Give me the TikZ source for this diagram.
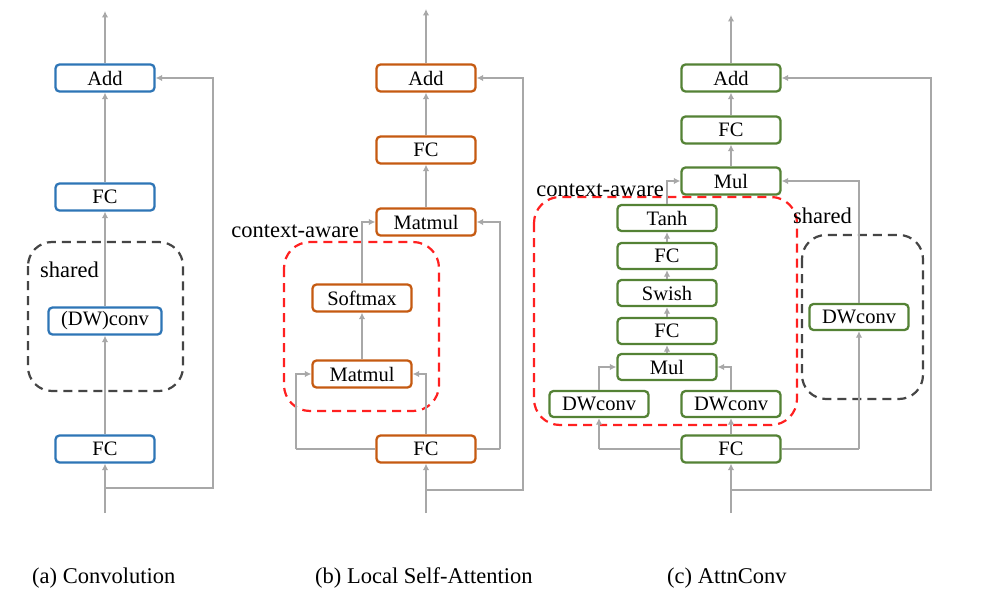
\documentclass[tikz,border=0pt]{standalone}
\usepackage{fontspec}
\setmainfont{Liberation Serif}
\usetikzlibrary{arrows.meta}
\definecolor{lgray}{HTML}{A8A8A8}
\definecolor{bblue}{HTML}{2E75B6}
\definecolor{borange}{HTML}{C55A11}
\definecolor{bgreen}{HTML}{548235}
\definecolor{dred}{HTML}{FF2020}
\definecolor{dgray}{HTML}{454545}
\tikzset{
  blk/.style={draw, rounded corners=4pt, line width=2.3pt, minimum height=27pt,
    minimum width=99pt, inner sep=0pt, fill=white, font=\fontsize{20.5}{21}\selectfont},
  bbox/.style={blk, draw=bblue},
  obox/.style={blk, draw=borange},
  gbox/.style={blk, draw=bgreen},
  conn/.style={draw=lgray, line width=1.9pt, -{Latex[length=6.5pt,width=6.5pt]}},
  plain/.style={draw=lgray, line width=1.9pt},
  reddash/.style={draw=dred, line width=2.2pt, dash pattern=on 9pt off 6pt, rounded corners=26pt},
  graydash/.style={draw=dgray, line width=2.2pt, dash pattern=on 9pt off 6pt, rounded corners=24pt},
  lbl/.style={inner sep=0pt, font=\fontsize{22.5}{24}\selectfont},
  captxt/.style={inner sep=0pt, font=\fontsize{22.5}{24}\selectfont},
}
\begin{document}
\begin{tikzpicture}[x=1pt,y=-1pt]
\useasboundingbox (0,0) rectangle (986,602);
\fill[white] (0,0) rectangle (986,602);

% ---------------- (a) ----------------
\draw[graydash] (28,242) rectangle (183,391);
\node[lbl, anchor=base west] (ashared) at (40,277) {shared};
\coordinate (ain) at (105,513);
\coordinate (abr) at (105,488);
\coordinate (abrr) at (213,488);
\coordinate (atop) at (105,11);
\node[bbox] (aadd) at (105,78) {Add};
\node[bbox] (afc1) at (105,197) {FC};
\node[bbox, minimum width=113pt] (aconv) at (105,321) {(DW)conv};
\node[bbox] (afc0) at (105,449) {FC};
\draw[conn] (ain) -- (afc0);
\draw[conn] (afc0) -- (aconv);
\draw[conn] (aconv) -- (afc1);
\draw[conn] (afc1) -- (aadd);
\draw[conn] (aadd) -- (atop);
\draw[conn] (abr) -- (abrr) |- (aadd.east);

% ---------------- (b) ----------------
\draw[reddash] (284,242) rectangle (439,411);
\node[lbl, anchor=base east] (bctx) at (359,237) {context-aware};
\coordinate (bin) at (426,513);
\coordinate (bbr) at (426,490);
\coordinate (bbrr) at (523,490);
\coordinate (btop) at (426,9);
\coordinate (bl) at (296,449);
\coordinate (br) at (500,449);
\node[obox] (badd) at (426,78) {Add};
\node[obox] (bfc1) at (426,150) {FC};
\node[obox] (bmm2) at (426,222) {Matmul};
\node[obox] (bsm) at (362,298) {Softmax};
\node[obox] (bmm1) at (362,374) {Matmul};
\node[obox] (bfc0) at (426,449) {FC};
\draw[conn] (bin) -- (bfc0);
\draw[conn] (bfc0.north) |- (bmm1.east);
\draw[plain] (bfc0.west) -- (bl);
\draw[conn] (bl) |- (bmm1.west);
\draw[plain] (bfc0.east) -- (br);
\draw[conn] (br) |- (bmm2.east);
\draw[conn] (bmm1) -- (bsm);
\draw[conn] (bsm.north) |- (bmm2.west);
\draw[conn] (bmm2) -- (bfc1);
\draw[conn] (bfc1) -- (badd);
\draw[conn] (badd) -- (btop);
\draw[conn] (bbr) -- (bbrr) |- (badd.east);

% ---------------- (c) ----------------
\draw[reddash] (534,197) rectangle (797,425);
\draw[graydash] (802,235) rectangle (923,399);
\node[lbl, anchor=base east] (cctx) at (664,196) {context-aware};
\node[lbl, anchor=base west] (cshared) at (793,223) {shared};
\coordinate (cin) at (731,513);
\coordinate (cbr) at (731,490);
\coordinate (cbrr) at (931,490);
\coordinate (ctop) at (731,15);
\coordinate (cl) at (599,449);
\coordinate (cr) at (859,449);
\node[gbox] (cadd) at (731,78) {Add};
\node[gbox] (cfc2) at (731,130) {FC};
\node[gbox] (cmul2) at (731,181) {Mul};
\node[gbox, minimum height=26pt] (ctanh) at (667,218) {Tanh};
\node[gbox, minimum height=26pt] (cfcb) at (667,256) {FC};
\node[gbox, minimum height=26pt] (cswish) at (667,293) {Swish};
\node[gbox, minimum height=26pt] (cfca) at (667,331) {FC};
\node[gbox, minimum height=26pt] (cmul1) at (667,367) {Mul};
\node[gbox, minimum height=26pt] (cdwl) at (599,404) {DWconv};
\node[gbox, minimum height=26pt] (cdwr) at (731,404) {DWconv};
\node[gbox, minimum height=26pt] (cdws) at (859,317) {DWconv};
\node[gbox] (cfc0) at (731,449) {FC};
\draw[conn] (cin) -- (cfc0);
\draw[conn] (cfc0) -- (cdwr);
\draw[plain] (cfc0.west) -- (cl);
\draw[conn] (cl) -- (cdwl.south);
\draw[plain] (cfc0.east) -- (cr);
\draw[conn] (cr) -- (cdws.south);
\draw[conn] (cdws.north) |- (cmul2.east);
\draw[conn] (cdwl.north) |- (cmul1.west);
\draw[conn] (cdwr.north) |- (cmul1.east);
\draw[conn] (cmul1) -- (cfca);
\draw[conn] (cfca) -- (cswish);
\draw[conn] (cswish) -- (cfcb);
\draw[conn] (cfcb) -- (ctanh);
\draw[conn] (ctanh.north) |- (cmul2.west);
\draw[conn] (cmul2) -- (cfc2);
\draw[conn] (cfc2) -- (cadd);
\draw[conn] (cadd) -- (ctop);
\draw[conn] (cbr) -- (cbrr) |- (cadd.east);

% ---------------- captions ----------------
\node[captxt, anchor=base west] (capa) at (32,583) {(a) Convolution};
\node[captxt, anchor=base west] (capb) at (315,583) {(b) Local Self-Attention};
\node[captxt, anchor=base west] (capc) at (667,583) {(c) AttnConv};
\end{tikzpicture}
\end{document}
